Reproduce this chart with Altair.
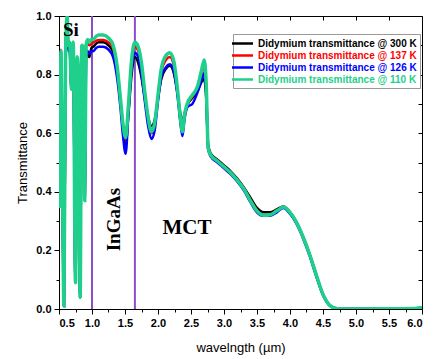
import altair as alt
import pandas as pd

# ---------------- data ----------------
wavelength = [
    0.50, 0.51, 0.53, 0.55, 0.575, 0.60, 0.625, 0.64, 0.66, 0.69, 0.715, 0.75,
    0.775, 0.80, 0.82, 0.845, 0.87, 0.89, 0.91, 0.935, 0.96, 0.99,
    1.02, 1.06, 1.10, 1.17, 1.25, 1.32, 1.38, 1.43, 1.47, 1.51, 1.55, 1.60,
    1.65, 1.70, 1.75, 1.80, 1.85, 1.90, 1.95, 2.00, 2.05, 2.12, 2.18, 2.24,
    2.30, 2.34, 2.37, 2.40, 2.45, 2.52, 2.60, 2.66, 2.70, 2.73, 2.76, 2.80,
    2.90, 3.00, 3.10, 3.20, 3.30, 3.40, 3.50, 3.60, 3.70, 3.80, 3.90, 4.00,
    4.10, 4.20, 4.30, 4.40, 4.50, 4.60, 4.70, 4.80, 5.00, 5.50, 5.90, 6.00,
]

t_300K = [
    0.80, 0.35, 0.87, 0.50, 0.01, 0.87, 0.98, 0.89, 0.90, 0.75, 0.90, 0.09,
    0.85, 0.74, 0.04, 0.89, 0.88, 0.37, 0.88, 0.87, 0.86, 0.89,
    0.895, 0.905, 0.91, 0.91, 0.90, 0.875, 0.81, 0.71, 0.62, 0.56, 0.66, 0.80,
    0.86, 0.84, 0.79, 0.72, 0.655, 0.625, 0.645, 0.72, 0.785, 0.82, 0.83, 0.805,
    0.73, 0.665, 0.635, 0.665, 0.70, 0.72, 0.745, 0.775, 0.785, 0.72, 0.56, 0.53,
    0.51, 0.49, 0.47, 0.445, 0.415, 0.38, 0.345, 0.33, 0.33, 0.34, 0.35, 0.33,
    0.295, 0.245, 0.185, 0.115, 0.05, 0.013, 0.002, 0.0, 0.0, 0.0, 0.0, 0.0,
]

t_137K = [
    0.81, 0.35, 0.885, 0.50, 0.01, 0.88, 0.99, 0.90, 0.912, 0.75, 0.912, 0.09,
    0.862, 0.74, 0.04, 0.90, 0.89, 0.37, 0.90, 0.905, 0.90, 0.905,
    0.91, 0.915, 0.918, 0.918, 0.91, 0.89, 0.82, 0.715, 0.625, 0.575, 0.68, 0.84,
    0.895, 0.88, 0.825, 0.73, 0.645, 0.60, 0.63, 0.725, 0.81, 0.85, 0.86, 0.83,
    0.73, 0.645, 0.60, 0.655, 0.70, 0.725, 0.755, 0.80, 0.83, 0.76, 0.55, 0.525,
    0.505, 0.485, 0.465, 0.44, 0.41, 0.37, 0.335, 0.32, 0.322, 0.335, 0.348, 0.33,
    0.295, 0.245, 0.185, 0.115, 0.05, 0.013, 0.002, 0.0, 0.0, 0.0, 0.001, 0.003,
]

t_126K = [
    0.80, 0.35, 0.86, 0.50, 0.01, 0.86, 0.97, 0.88, 0.89, 0.75, 0.89, 0.09,
    0.84, 0.74, 0.04, 0.88, 0.87, 0.37, 0.87, 0.88, 0.87, 0.88,
    0.88, 0.89, 0.895, 0.895, 0.885, 0.86, 0.79, 0.69, 0.59, 0.53, 0.66, 0.82,
    0.875, 0.86, 0.80, 0.71, 0.625, 0.58, 0.61, 0.71, 0.79, 0.825, 0.835, 0.81,
    0.72, 0.635, 0.59, 0.645, 0.69, 0.70, 0.74, 0.78, 0.805, 0.74, 0.545, 0.52,
    0.50, 0.48, 0.46, 0.435, 0.405, 0.365, 0.33, 0.318, 0.318, 0.33, 0.345, 0.325,
    0.29, 0.24, 0.18, 0.11, 0.047, 0.012, 0.002, 0.0, 0.0, 0.0, 0.0, 0.0,
]

t_110K = [
    0.80, 0.35, 0.88, 0.50, 0.01, 0.88, 1.00, 0.90, 0.91, 0.75, 0.91, 0.09,
    0.86, 0.74, 0.04, 0.90, 0.89, 0.37, 0.90, 0.92, 0.91, 0.92,
    0.92, 0.93, 0.935, 0.935, 0.925, 0.90, 0.83, 0.72, 0.63, 0.585, 0.69, 0.85,
    0.91, 0.895, 0.84, 0.74, 0.655, 0.605, 0.635, 0.73, 0.82, 0.865, 0.875, 0.845,
    0.74, 0.65, 0.605, 0.66, 0.705, 0.73, 0.76, 0.815, 0.85, 0.77, 0.55, 0.525,
    0.505, 0.485, 0.465, 0.44, 0.41, 0.37, 0.335, 0.32, 0.322, 0.335, 0.348, 0.33,
    0.295, 0.245, 0.185, 0.115, 0.05, 0.013, 0.002, 0.0, 0.0, 0.001, 0.002, 0.005,
]

series_names = [
    "Didymium transmittance @ 300 K",
    "Didymium transmittance @ 137 K",
    "Didymium transmittance @ 126 K",
    "Didymium transmittance @ 110 K",
]
series_values = [t_300K, t_137K, t_126K, t_110K]
series_colors = ["#000000", "#ff0000", "#0000ff", "#1ed08c"]
series_widths = [2.5, 2.5, 2.5, 3.5]

detector_edges = [1.0, 1.65]

label_text = ["Si", "InGaAs", "MCT"]
label_x = [0.68, 1.33, 2.44]
label_y = [0.952, 0.305, 0.275]
label_angle = [0, 270, 0]
label_size = [19, 19, 21]

x_major = [0.5, 1.0, 1.5, 2.0, 2.5, 3.0, 3.5, 4.0, 4.5, 5.0, 5.5, 6.0]
x_minor = [0.75, 1.25, 1.75, 2.25, 2.75, 3.25, 3.75, 4.25, 4.75, 5.25, 5.75]
y_major = [0.0, 0.2, 0.4, 0.6, 0.8, 1.0]
y_minor = [0.1, 0.3, 0.5, 0.7, 0.9]
y_all = [0.1, 0.2, 0.3, 0.4, 0.5, 0.6, 0.7, 0.8, 0.9]

# ---------------- tables ----------------
rows = []
for name, vals in zip(series_names, series_values):
    for w, t in zip(wavelength, vals):
        rows.append({"wl": w, "T": t, "series": name})
df = pd.DataFrame(rows)
edges_df = pd.DataFrame({"edge": detector_edges})
labels_df = pd.DataFrame({"text": label_text, "wl": label_x, "T": label_y,
                          "angle": label_angle, "size": label_size})

# ---------------- scales / axes ----------------
xscale = alt.Scale(domain=[0.5, 6.0], nice=False, zero=False)
yscale = alt.Scale(domain=[0.0, 1.0], nice=False)
FONT = "Liberation Sans"

common = dict(grid=False, domainColor="black", tickColor="black", labelColor="black",
              titleColor="black", labelFont=FONT, titleFont=FONT)

ax_x_main = alt.Axis(orient="bottom", values=x_major, format=".1f", tickSize=5,
                     labelFontSize=11, labelFontWeight="bold", labelPadding=3,
                     title="wavelngth (\u00b5m)", titleFontSize=13,
                     titleFontWeight="normal", titlePadding=13, **common)
ax_x_minor = alt.Axis(orient="bottom", values=x_minor, tickSize=3, labels=False,
                      domain=False, title="", **common)
ax_x_top = alt.Axis(orient="top", values=x_major, tickSize=4, offset=-4, labels=False,
                    domain=False, title="", **common)
ax_y_main = alt.Axis(orient="left", values=y_major, format=".1f", tickSize=5,
                     labelFontSize=11, labelFontWeight="bold", labelPadding=3,
                     title="Transmittance", titleFontSize=13,
                     titleFontWeight="normal", titlePadding=6, **common)
ax_y_minor = alt.Axis(orient="left", values=y_minor, tickSize=3, labels=False,
                      domain=False, title="", **common)
ax_y_right = alt.Axis(orient="right", values=y_all, tickSize=4, offset=-4, labels=False,
                      domain=False, title="", **common)

legend = alt.Legend(
    title=None, orient="none", legendX=174, legendY=18, padding=3,
    strokeColor="#999999", fillColor="white",
    labelFont=FONT, labelFontSize=10, labelFontWeight="bold",
    labelColor={"expr": "scale('color', datum.value)"},
    symbolType="M-2,0H2", symbolSize=110, symbolStrokeWidth=2.5, rowPadding=0,
    labelOffset=9, labelLimit=300,
)
color = alt.Color("series:N", scale=alt.Scale(domain=series_names, range=series_colors),
                  legend=legend)

axes_for = [
    (ax_x_main, ax_y_main),
    (ax_x_minor, ax_y_minor),
    (ax_x_top, ax_y_right),
    (None, None),
]

layers = []
for name, width, (ax_x, ax_y) in zip(series_names, series_widths, axes_for):
    layers.append(
        alt.Chart(df).transform_filter(alt.datum.series == name)
        .mark_line(strokeWidth=width, clip=True, interpolate="monotone")
        .encode(
            x=alt.X("wl:Q", scale=xscale, axis=ax_x),
            y=alt.Y("T:Q", scale=yscale, axis=ax_y),
            color=color,
            order=alt.Order("wl:Q"),
        )
    )

rules = alt.Chart(edges_df).mark_rule(color="#8a4fc8", strokeWidth=2).encode(
    x=alt.X("edge:Q", scale=xscale, axis=None)
)

texts = alt.Chart(labels_df).mark_text(font="Liberation Serif", fontWeight="bold",
                                       color="black").encode(
    x=alt.X("wl:Q", scale=xscale, axis=None),
    y=alt.Y("T:Q", scale=yscale, axis=None),
    text="text:N",
    angle=alt.Angle("angle:Q", scale=None),
    size=alt.Size("size:Q", scale=None),
)

chart = (
    alt.layer(rules, *layers, texts)
    .resolve_axis(x="independent", y="independent")
    .properties(width=363, height=293, autosize="none",
                padding={"left": 51, "top": 8, "right": 3, "bottom": 50})
    .configure_view(stroke="black", strokeWidth=1)
)

chart.save("out.html", embed_options={"renderer": "svg", "actions": False})
